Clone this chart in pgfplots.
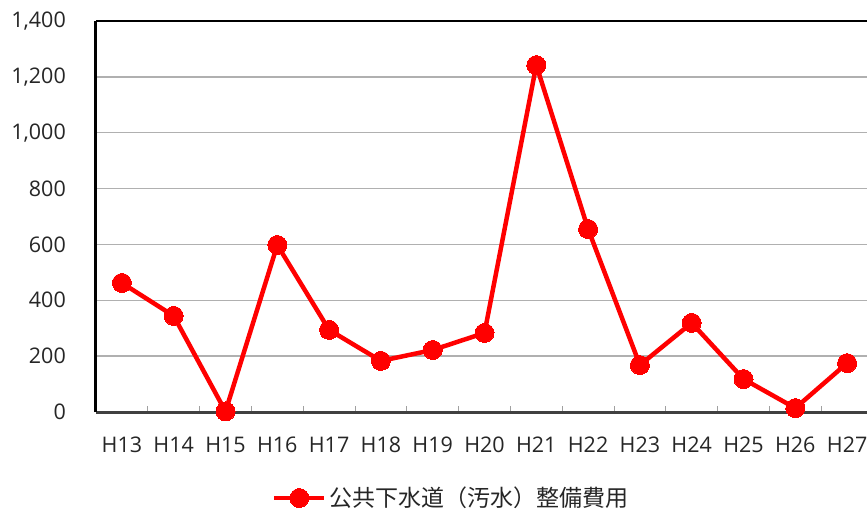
\documentclass[border=0pt]{standalone}
\usepackage{fontspec}
\setmainfont{Open Sans}
\newfontfamily\jp{Noto Sans CJK JP}
\usepackage{pgfplots}
\pgfplotsset{compat=1.18}
\definecolor{gridgray}{HTML}{B0B0B0}
\definecolor{axgray}{HTML}{404040}
\definecolor{tickgray}{HTML}{A0A0A0}
\begin{document}
\fontsize{21.5bp}{26bp}\selectfont
\begin{tikzpicture}
\begin{axis}[
  scale only axis, width=777bp, height=391bp,
  xmin=-0.5, xmax=14.5, ymin=0, ymax=1400,
  axis x line*=bottom, axis y line*=left,
  axis line style={-},
  x axis line style={axgray, line width=3bp},
  y axis line style={black, line width=3bp},
  xtick={0,...,14},
  xticklabels={H13,H14,H15,H16,H17,H18,H19,H20,H21,H22,H23,H24,H25,H26,H27},
  minor xtick={0.5,1.5,...,13.5},
  ytick={0,200,...,1400},
  major tick length=0pt, minor tick length=6bp, tick align=inside,
  every minor tick/.style={tickgray, line width=1bp},
  ymajorgrids, major grid style={gridgray, line width=1.5bp},
  xticklabel style={inner sep=0pt, anchor=north, yshift=-25bp, text=black!85},
  yticklabel style={inner sep=0pt, anchor=east, xshift=-30bp, text=black!85},
  /pgf/number format/1000 sep={,},
  /pgf/number format/assume math mode=true,
  legend style={at={(0.458,-0.22)}, anchor=center, draw=none, fill=none,
    inner sep=0pt, font=\fontsize{23bp}{26bp}\selectfont\jp,
    nodes={inner sep=3bp, text=black!85}},
  legend image code/.code={\draw[mark repeat=2, mark phase=2, #1] plot coordinates {(0bp,0bp) (25bp,0bp) (50bp,0bp)};},
]
\addplot[red, line width=4.5bp, mark=*, mark size=9.5bp, mark options={fill=red, draw=red, line width=0pt}]
  coordinates {(0,462) (1,344) (2,2) (3,598) (4,294) (5,183) (6,222) (7,283) (8,1242) (9,655) (10,168) (11,319) (12,118) (13,14) (14,175)};
\addlegendentry{公共下水道（汚水）整備費用}
\draw[black, line width=3bp] (rel axis cs:0,1) -- (rel axis cs:1,1);
\end{axis}
\pgfresetboundingbox
\path[use as bounding box] (-96bp,-100bp) rectangle (771bp,412bp);
\end{tikzpicture}
\end{document}
